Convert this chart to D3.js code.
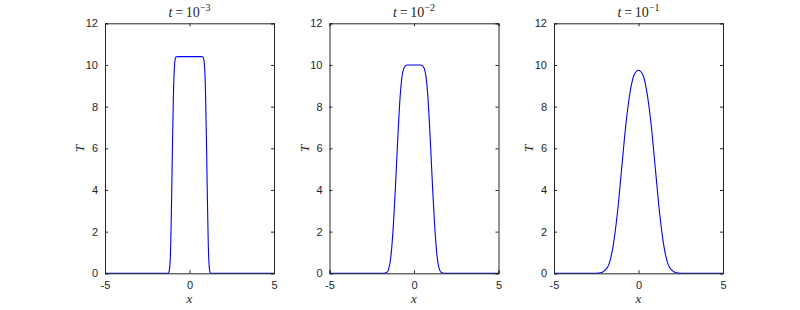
<!DOCTYPE html>
<html>
<head>
<meta charset="utf-8">
<script src="https://cdn.jsdelivr.net/npm/d3@7"></script>
<style>
  body { margin: 0; background: #fff; }
  svg text { fill: #262626; }
</style>
</head>
<body>
<svg id="chart" width="800" height="310"></svg>
<script>
// exponents for the panel titles, t = 10^exp
let titleExps = ["-3", "-2", "-1"];
let xTicks = [-5, 0, 5];
let yTicks = [0, 2, 4, 6, 8, 10, 12];

// temperature profiles
let x1 = [-5, -1.25, -1.2, -1.15, -1.1, -1.05, -1.0, -0.95, -0.9, -0.85, -0.8, -0.7, 0, 0.7, 0.8, 0.85, 0.9, 0.95, 1.0, 1.05, 1.1, 1.15, 1.2, 1.25, 5];
let T1 = [0, 0, 0.1, 0.5, 1.8, 4.0, 6.5, 8.6, 9.8, 10.25, 10.38, 10.4, 10.4, 10.4, 10.38, 10.25, 9.8, 8.6, 6.5, 4.0, 1.8, 0.5, 0.1, 0, 0];

let x2 = [-5, -1.8, -1.6, -1.5, -1.4, -1.3, -1.2, -1.1, -1.0, -0.9, -0.8, -0.7, -0.6, -0.5, -0.4, 0, 0.4, 0.5, 0.6, 0.7, 0.8, 0.9, 1.0, 1.1, 1.2, 1.3, 1.4, 1.5, 1.6, 1.8, 5];
let T2 = [0, 0, 0.05, 0.2, 0.6, 1.4, 2.6, 4.1, 5.8, 7.4, 8.7, 9.5, 9.85, 9.97, 10.0, 10.0, 10.0, 9.97, 9.85, 9.5, 8.7, 7.4, 5.8, 4.1, 2.6, 1.4, 0.6, 0.2, 0.05, 0, 0];

let x3 = [-5, -2.75, -2.5, -2.25, -2.0, -1.75, -1.5, -1.25, -1.0, -0.75, -0.5, -0.25, 0, 0.25, 0.5, 0.75, 1.0, 1.25, 1.5, 1.75, 2.0, 2.25, 2.5, 2.75, 5];
let T3 = [0, 0, 0.005, 0.025, 0.125, 0.43, 1.32, 2.88, 5.0, 7.12, 8.68, 9.54, 9.75, 9.54, 8.68, 7.12, 5.0, 2.88, 1.32, 0.43, 0.125, 0.025, 0.005, 0, 0];

let series = [
    {xs: x1, ts: T1},
    {xs: x2, ts: T2},
    {xs: x3, ts: T3}
];

let svg = d3.select("#chart");
let lefts = [105, 329.5, 554];
let plotW = 169, plotTop = 23.3, plotH = 250;
let axisColor = "#262626";

series.forEach(function(s, i) {
    let g = svg.append("g").attr("transform", "translate(" + lefts[i] + "," + plotTop + ")");

    let scaleX = d3.scaleLinear().domain([-5, 5]).range([0, plotW]);
    let scaleY = d3.scaleLinear().domain([0, 12]).range([plotH, 0]);

    // curve first so the frame sits on top of it like matlab
    let pts = s.xs.map((x, k) => [x, s.ts[k]]);
    let line = d3.line()
        .x(d => scaleX(d[0]))
        .y(d => scaleY(d[1]))
        .curve(d3.curveMonotoneX);
    g.append("path")
        .datum(pts)
        .attr("d", line)
        .attr("fill", "none")
        .attr("stroke", "#0000ff")
        .attr("stroke-width", 1.1);

    // axes with inward ticks on all four sides
    let axB = d3.axisBottom(scaleX).tickValues(xTicks).tickSize(-3).tickPadding(8);
    let axT = d3.axisTop(scaleX).tickValues(xTicks).tickSize(-3).tickFormat("");
    let axL = d3.axisLeft(scaleY).tickValues(yTicks).tickSize(-3).tickPadding(7);
    let axR = d3.axisRight(scaleY).tickValues(yTicks).tickSize(-3).tickFormat("");

    let parts = [
        g.append("g").attr("transform", "translate(0," + plotH + ")").call(axB),
        g.append("g").call(axT),
        g.append("g").call(axL),
        g.append("g").attr("transform", "translate(" + plotW + ",0)").call(axR)
    ];
    parts.forEach(function(a) {
        a.select(".domain").attr("stroke", axisColor).attr("stroke-width", 1);
        a.selectAll(".tick line").attr("stroke", axisColor);
        a.selectAll(".tick text")
            .attr("font-family", "Liberation Sans, Arial, sans-serif")
            .attr("font-size", 11)
            .attr("fill", axisColor);
    });
    parts[0].selectAll(".tick text").text(d => d < 0 ? "-" + Math.abs(d) : d);

    // title t = 10^{exp}
    let title = g.append("text")
        .attr("x", plotW / 2)
        .attr("y", -6)
        .attr("text-anchor", "middle")
        .attr("font-family", "Liberation Serif, DejaVu Serif, serif")
        .attr("font-size", 14)
        .attr("fill", "#000");
    title.append("tspan").attr("font-style", "italic").text("t");
    title.append("tspan").text("\u2009=\u200910");
    title.append("tspan").attr("font-size", 10).attr("dy", -6).text(titleExps[i].replace("-", "\u2212"));

    // axis labels
    g.append("text")
        .attr("x", plotW / 2)
        .attr("y", plotH + 30)
        .attr("text-anchor", "middle")
        .attr("font-family", "Liberation Serif, DejaVu Serif, serif")
        .attr("font-style", "italic")
        .attr("font-size", 13)
        .text("x");
    g.append("text")
        .attr("transform", "translate(-21," + (plotH / 2) + ") rotate(-90)")
        .attr("text-anchor", "middle")
        .attr("font-family", "Liberation Serif, DejaVu Serif, serif")
        .attr("font-style", "italic")
        .attr("font-size", 13)
        .text("T");
});
</script>
</body>
</html>
